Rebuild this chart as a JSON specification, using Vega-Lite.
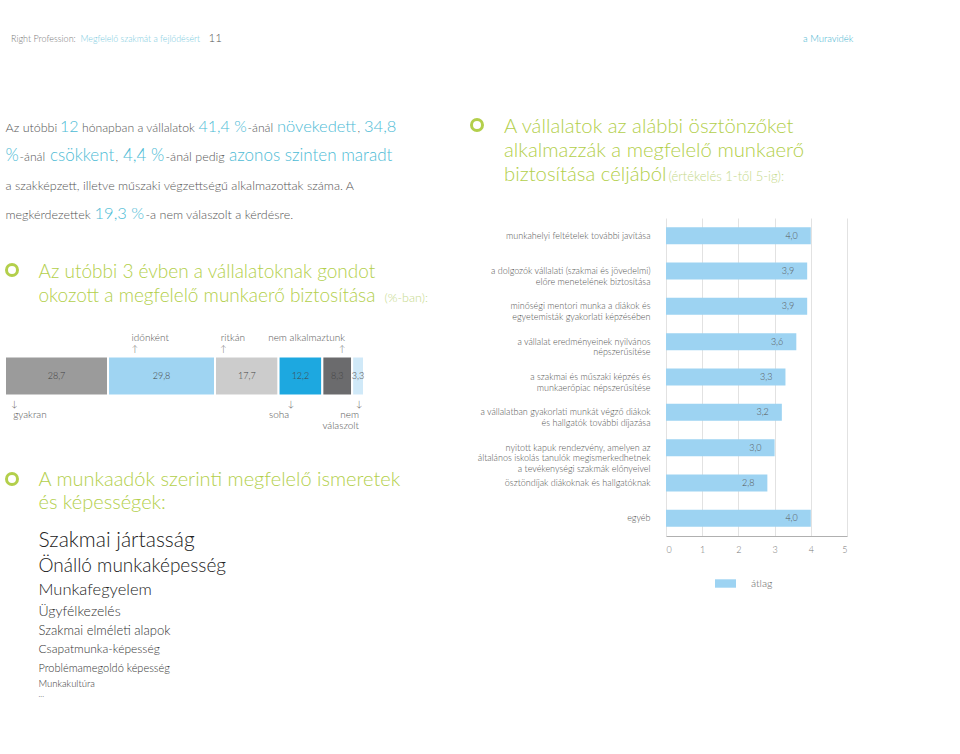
{
  "$schema": "https://vega.github.io/schema/vega-lite/v6.json",
  "padding": {"left": 0, "top": 0, "right": 0, "bottom": 0},
  "background": "white",
  "config": {
    "view": {"stroke": null},
    "font": "Lato",
    "text": {"font": "Lato", "align": "left", "baseline": "alphabetic", "fontWeight": 300},
    "axis": {"labelFontWeight": 300},
    "legend": {"labelFontWeight": 300},
    "locale": {"number": {"decimal": ",", "thousands": " ", "grouping": [3], "currency": ["", ""]}},
    "concat": {"spacing": 0}
  },
  "resolve": {"scale": {"color": "independent"}, "legend": {"color": "independent"}},
  "spacing": 3,
  "hconcat": [
    {
      "spacing": 0,
      "vconcat": [
        {"spacing": 0, "hconcat": [
          {"width": 1, "height": 117, "data": {"values": [{"t": "Right Profession:"}]}, "mark": {"type": "text", "fontSize": 9, "color": "#7a7a7a", "dx": 5.5, "dy": -17}, "encoding": {"text": {"field": "t", "type": "nominal"}}},
          {"width": 1, "height": 117, "data": {"values": [{"t": "Megfelelő szakmát a fejlődésért"}]}, "mark": {"type": "text", "fontSize": 8.8, "color": "#7ccbe0", "dx": 4, "dy": -17}, "encoding": {"text": {"field": "t", "type": "nominal"}}},
          {"width": 1, "height": 117, "data": {"values": [{"t": "11"}]}, "mark": {"type": "text", "fontSize": 11.5, "color": "#555555", "dx": 7, "dy": -17}, "encoding": {"text": {"field": "t", "type": "nominal"}}}
        ]},
        {"spacing": 0, "hconcat": [
          {"width": 1, "height": 29, "data": {"values": [{"t": "Az utóbbi"}]}, "mark": {"type": "text", "fontSize": 12.5, "color": "#555555"}, "encoding": {"text": {"field": "t", "type": "nominal"}}},
          {"width": 1, "height": 29, "data": {"values": [{"t": "12"}]}, "mark": {"type": "text", "fontSize": 16, "color": "#4dbbd5", "dx": 1.5}, "encoding": {"text": {"field": "t", "type": "nominal"}}},
          {"width": 1, "height": 29, "data": {"values": [{"t": "hónapban a vállalatok"}]}, "mark": {"type": "text", "fontSize": 12.2, "color": "#555555", "dx": 2.5}, "encoding": {"text": {"field": "t", "type": "nominal"}}},
          {"width": 1, "height": 29, "data": {"values": [{"t": "41,4 %"}]}, "mark": {"type": "text", "fontSize": 16, "color": "#4dbbd5", "dx": 2}, "encoding": {"text": {"field": "t", "type": "nominal"}}},
          {"width": 1, "height": 29, "data": {"values": [{"t": "-ánál"}]}, "mark": {"type": "text", "fontSize": 12.2, "color": "#555555"}, "encoding": {"text": {"field": "t", "type": "nominal"}}},
          {"width": 1, "height": 29, "data": {"values": [{"t": "növekedett"}]}, "mark": {"type": "text", "fontSize": 16.5, "color": "#4dbbd5", "dx": 2.5}, "encoding": {"text": {"field": "t", "type": "nominal"}}},
          {"width": 1, "height": 29, "data": {"values": [{"t": ","}]}, "mark": {"type": "text", "fontSize": 12.2, "color": "#555555"}, "encoding": {"text": {"field": "t", "type": "nominal"}}},
          {"width": 1, "height": 29, "data": {"values": [{"t": "34,8"}]}, "mark": {"type": "text", "fontSize": 16.5, "color": "#4dbbd5", "dx": 2.5}, "encoding": {"text": {"field": "t", "type": "nominal"}}}
        ]},
        {"spacing": 0, "hconcat": [
          {"width": 1, "height": 29, "data": {"values": [{"t": "%"}]}, "mark": {"type": "text", "fontSize": 17, "color": "#4dbbd5"}, "encoding": {"text": {"field": "t", "type": "nominal"}}},
          {"width": 1, "height": 29, "data": {"values": [{"t": "-ánál"}]}, "mark": {"type": "text", "fontSize": 12.2, "color": "#555555"}, "encoding": {"text": {"field": "t", "type": "nominal"}}},
          {"width": 1, "height": 29, "data": {"values": [{"t": "csökkent"}]}, "mark": {"type": "text", "fontSize": 17, "color": "#4dbbd5", "dx": 3.5}, "encoding": {"text": {"field": "t", "type": "nominal"}}},
          {"width": 1, "height": 29, "data": {"values": [{"t": ","}]}, "mark": {"type": "text", "fontSize": 12.2, "color": "#555555"}, "encoding": {"text": {"field": "t", "type": "nominal"}}},
          {"width": 1, "height": 29, "data": {"values": [{"t": "4,4 %"}]}, "mark": {"type": "text", "fontSize": 17, "color": "#4dbbd5", "dx": 3.5}, "encoding": {"text": {"field": "t", "type": "nominal"}}},
          {"width": 1, "height": 29, "data": {"values": [{"t": "-ánál pedig"}]}, "mark": {"type": "text", "fontSize": 12.5, "color": "#555555"}, "encoding": {"text": {"field": "t", "type": "nominal"}}},
          {"width": 1, "height": 29, "data": {"values": [{"t": "azonos szinten maradt"}]}, "mark": {"type": "text", "fontSize": 17, "color": "#4dbbd5", "dx": 3.5}, "encoding": {"text": {"field": "t", "type": "nominal"}}}
        ]},
        {"width": 1, "height": 29, "data": {"values": [{"t": "a szakképzett, illetve műszaki végzettségű alkalmazottak száma. A"}]}, "mark": {"type": "text", "fontSize": 12.5, "color": "#555555"}, "encoding": {"text": {"field": "t", "type": "nominal"}}},
        {"spacing": 0, "hconcat": [
          {"width": 1, "height": 29, "data": {"values": [{"t": "megkérdezettek"}]}, "mark": {"type": "text", "fontSize": 12.5, "color": "#555555"}, "encoding": {"text": {"field": "t", "type": "nominal"}}},
          {"width": 1, "height": 29, "data": {"values": [{"t": "19,3 %"}]}, "mark": {"type": "text", "fontSize": 16.5, "color": "#4dbbd5", "dx": 3}, "encoding": {"text": {"field": "t", "type": "nominal"}}},
          {"width": 1, "height": 29, "data": {"values": [{"t": "-a nem válaszolt a kérdésre."}]}, "mark": {"type": "text", "fontSize": 12.5, "color": "#555555"}, "encoding": {"text": {"field": "t", "type": "nominal"}}}
        ]},
        {"spacing": 0, "hconcat": [
          {"width": 1, "height": 88, "data": {"values": [{"t": "Az utóbbi 3 évben a vállalatoknak gondot\nokozott a megfelelő munkaerő biztosítása"}]},
            "layer": [
              {"mark": {"type": "point", "shape": "circle", "filled": false, "size": 121, "strokeWidth": 3, "color": "#b3cf4b", "opacity": 1, "xOffset": 6.5, "yOffset": -7}, "encoding": {}},
              {"mark": {"type": "text", "fontSize": 19, "color": "#b3cf4b", "dx": 33, "dy": 0.5, "lineBreak": "\n", "lineHeight": 24}, "encoding": {"text": {"field": "t", "type": "nominal"}}}
            ]},
          {"width": 1, "height": 88, "data": {"values": [{"t": "(%-ban):"}]}, "mark": {"type": "text", "fontSize": 12.5, "color": "#c5d98a", "dx": 8, "dy": 24.5}, "encoding": {"text": {"field": "t", "type": "nominal"}}}
        ]},
        {
          "width": 359, "height": 110,
          "data": {"values": [
            {"kategoria": "gyakran", "ertek": 28.7, "sorrend": 1},
            {"kategoria": "időnként", "ertek": 29.8, "sorrend": 2},
            {"kategoria": "ritkán", "ertek": 17.7, "sorrend": 3},
            {"kategoria": "soha", "ertek": 12.2, "sorrend": 4},
            {"kategoria": "nem alkalmaztunk", "ertek": 8.3, "sorrend": 5},
            {"kategoria": "nem válaszolt", "ertek": 3.3, "sorrend": 6}
          ]},
          "encoding": {
            "x": {"field": "ertek", "type": "quantitative", "stack": "zero", "scale": {"domain": [0, 100], "nice": false}, "axis": null},
            "order": {"field": "sorrend", "type": "quantitative"},
            "detail": {"field": "kategoria", "type": "nominal"}
          },
          "layer": [
            {"mark": {"type": "bar", "height": 39, "stroke": "white", "strokeWidth": 2}, "encoding": {"color": {"field": "kategoria", "type": "nominal", "scale": {"domain": ["gyakran", "időnként", "ritkán", "soha", "nem alkalmaztunk", "nem válaszolt"], "range": ["#9b9b9b", "#9fd4f2", "#cccccc", "#1da8e0", "#6b6b6d", "#d0e9f8"]}, "legend": null}}},
            {"mark": {"type": "text", "align": "center", "baseline": "middle", "fontSize": 9, "color": "#444444"}, "encoding": {"x": {"field": "ertek", "type": "quantitative", "stack": "zero", "bandPosition": 0.5}, "text": {"field": "ertek", "type": "quantitative", "format": ".1f"}}},
            {"mark": {"type": "text", "fontSize": 10, "color": "#555555", "dy": -35}, "encoding": {"x": {"field": "ertek", "type": "quantitative", "stack": "zero", "bandPosition": 0.22}, "text": {"condition": {"test": "datum.kategoria === 'időnként'", "field": "kategoria", "type": "nominal"}, "value": ""}}},
            {"mark": {"type": "text", "fontSize": 10, "color": "#555555", "dy": -35}, "encoding": {"x": {"field": "ertek", "type": "quantitative", "stack": "zero", "bandPosition": 0.09}, "text": {"condition": {"test": "datum.kategoria === 'ritkán'", "field": "kategoria", "type": "nominal"}, "value": ""}}},
            {"mark": {"type": "text", "fontSize": 10, "color": "#555555", "align": "right", "dy": -35}, "encoding": {"x": {"field": "ertek", "type": "quantitative", "stack": "zero", "bandPosition": 0.76}, "text": {"condition": {"test": "datum.kategoria === 'nem alkalmaztunk'", "field": "kategoria", "type": "nominal"}, "value": ""}}},
            {"mark": {"type": "text", "fontSize": 9, "color": "#555555", "align": "center", "baseline": "middle", "dy": -27}, "encoding": {"x": {"field": "ertek", "type": "quantitative", "stack": "zero", "bandPosition": 0.25}, "text": {"condition": {"test": "datum.kategoria === 'időnként'", "value": "↑"}, "value": ""}}},
            {"mark": {"type": "text", "fontSize": 9, "color": "#555555", "align": "center", "baseline": "middle", "dy": -27}, "encoding": {"x": {"field": "ertek", "type": "quantitative", "stack": "zero", "bandPosition": 0.13}, "text": {"condition": {"test": "datum.kategoria === 'ritkán'", "value": "↑"}, "value": ""}}},
            {"mark": {"type": "text", "fontSize": 9, "color": "#555555", "align": "center", "baseline": "middle", "dy": -27}, "encoding": {"x": {"field": "ertek", "type": "quantitative", "stack": "zero", "bandPosition": 0.66}, "text": {"condition": {"test": "datum.kategoria === 'nem alkalmaztunk'", "value": "↑"}, "value": ""}}},
            {"mark": {"type": "text", "fontSize": 9, "color": "#555555", "align": "center", "baseline": "middle", "dy": 27.5}, "encoding": {"x": {"field": "ertek", "type": "quantitative", "stack": "zero", "bandPosition": 0.09}, "text": {"condition": {"test": "datum.kategoria === 'gyakran'", "value": "↓"}, "value": ""}}},
            {"mark": {"type": "text", "fontSize": 9, "color": "#555555", "align": "center", "baseline": "middle", "dy": 27.5}, "encoding": {"x": {"field": "ertek", "type": "quantitative", "stack": "zero", "bandPosition": 0.28}, "text": {"condition": {"test": "datum.kategoria === 'soha'", "value": "↓"}, "value": ""}}},
            {"mark": {"type": "text", "fontSize": 9, "color": "#555555", "align": "center", "baseline": "middle", "dy": 27.5}, "encoding": {"x": {"field": "ertek", "type": "quantitative", "stack": "zero", "bandPosition": 0.58}, "text": {"condition": {"test": "datum.kategoria === 'nem válaszolt'", "value": "↓"}, "value": ""}}},
            {"mark": {"type": "text", "fontSize": 10, "color": "#555555", "dy": 42}, "encoding": {"x": {"field": "ertek", "type": "quantitative", "stack": "zero", "bandPosition": 0.08}, "text": {"condition": {"test": "datum.kategoria === 'gyakran'", "field": "kategoria", "type": "nominal"}, "value": ""}}},
            {"mark": {"type": "text", "fontSize": 10, "color": "#555555", "align": "right", "dy": 42}, "encoding": {"x": {"field": "ertek", "type": "quantitative", "stack": "zero", "bandPosition": 0.24}, "text": {"condition": {"test": "datum.kategoria === 'soha'", "field": "kategoria", "type": "nominal"}, "value": ""}}},
            {"mark": {"type": "text", "fontSize": 10, "color": "#555555", "align": "right", "dy": 42, "lineBreak": " ", "lineHeight": 11}, "encoding": {"x": {"field": "ertek", "type": "quantitative", "stack": "zero", "bandPosition": 0.58}, "text": {"condition": {"test": "datum.kategoria === 'nem válaszolt'", "field": "kategoria", "type": "nominal"}, "value": ""}}}
          ]
        },
        {"width": 1, "height": 94, "data": {"values": [{"t": "A munkaadók szerinti megfelelő ismeretek\nés képességek:"}]},
          "layer": [
            {"mark": {"type": "point", "shape": "circle", "filled": false, "size": 121, "strokeWidth": 3, "color": "#b3cf4b", "opacity": 1, "xOffset": 6.5, "yOffset": 1}, "encoding": {}},
            {"mark": {"type": "text", "fontSize": 20, "color": "#b3cf4b", "dx": 33, "dy": 8, "lineBreak": "\n", "lineHeight": 23}, "encoding": {"text": {"field": "t", "type": "nominal"}}}
          ]},
        {"width": 1, "height": 26, "data": {"values": [{"t": "Szakmai jártasság"}]}, "mark": {"type": "text", "fontSize": 21, "color": "#222222", "dx": 33, "dy": 9}, "encoding": {"text": {"field": "t", "type": "nominal"}}},
        {"width": 1, "height": 25, "data": {"values": [{"t": "Önálló munkaképesség"}]}, "mark": {"type": "text", "fontSize": 19, "color": "#222222", "dx": 33, "dy": 8.5}, "encoding": {"text": {"field": "t", "type": "nominal"}}},
        {"width": 1, "height": 23, "data": {"values": [{"t": "Munkafegyelem"}]}, "mark": {"type": "text", "fontSize": 16.5, "color": "#222222", "dx": 33, "dy": 7.5}, "encoding": {"text": {"field": "t", "type": "nominal"}}},
        {"width": 1, "height": 21, "data": {"values": [{"t": "Ügyfélkezelés"}]}, "mark": {"type": "text", "fontSize": 14, "color": "#333333", "dx": 33, "dy": 6.5}, "encoding": {"text": {"field": "t", "type": "nominal"}}},
        {"width": 1, "height": 19, "data": {"values": [{"t": "Szakmai elméleti alapok"}]}, "mark": {"type": "text", "fontSize": 13, "color": "#333333", "dx": 33, "dy": 5.5}, "encoding": {"text": {"field": "t", "type": "nominal"}}},
        {"width": 1, "height": 18, "data": {"values": [{"t": "Csapatmunka-képesség"}]}, "mark": {"type": "text", "fontSize": 12, "color": "#333333", "dx": 33, "dy": 5}, "encoding": {"text": {"field": "t", "type": "nominal"}}},
        {"width": 1, "height": 19, "data": {"values": [{"t": "Problémamegoldó képesség"}]}, "mark": {"type": "text", "fontSize": 11, "color": "#333333", "dx": 33, "dy": 5.5}, "encoding": {"text": {"field": "t", "type": "nominal"}}},
        {"width": 1, "height": 15, "data": {"values": [{"t": "Munkakultúra"}]}, "mark": {"type": "text", "fontSize": 9.5, "color": "#333333", "dx": 33, "dy": 3.5}, "encoding": {"text": {"field": "t", "type": "nominal"}}},
        {"width": 1, "height": 10, "data": {"values": [{"t": "..."}]}, "mark": {"type": "text", "fontSize": 8, "color": "#333333", "dx": 33, "dy": 1}, "encoding": {"text": {"field": "t", "type": "nominal"}}},
        {"width": 457, "height": 1, "data": {"values": []}, "mark": "point"}
      ]
    },
    {
      "spacing": 0,
      "vconcat": [
        {"width": 1, "height": 86, "data": {"values": [{"t": "a Muravidék"}]}, "mark": {"type": "text", "fontSize": 9.5, "color": "#3fb3cf", "dx": 136.5, "dy": -1.5}, "encoding": {"text": {"field": "t", "type": "nominal"}}},
        {"width": 1, "height": 76, "data": {"values": [{"t": "A vállalatok az alábbi ösztönzőket\nalkalmazzák a megfelelő munkaerő"}]},
          "layer": [
            {"mark": {"type": "point", "shape": "circle", "filled": false, "size": 121, "strokeWidth": 3, "color": "#b3cf4b", "opacity": 1, "xOffset": -189.5, "yOffset": 1}, "encoding": {}},
            {"mark": {"type": "text", "fontSize": 20.3, "color": "#b3cf4b", "dx": -162.5, "dy": 9, "lineBreak": "\n", "lineHeight": 24}, "encoding": {"text": {"field": "t", "type": "nominal"}}}
          ]},
        {"spacing": 0, "hconcat": [
          {"width": 1, "height": 56, "data": {"values": [{"t": "biztosítása céljából"}]}, "mark": {"type": "text", "fontSize": 20.3, "color": "#b3cf4b", "dx": -162.5, "dy": -9.5}, "encoding": {"text": {"field": "t", "type": "nominal"}}},
          {"width": 1, "height": 56, "data": {"values": [{"t": "(értékelés 1-től 5-ig):"}]}, "mark": {"type": "text", "fontSize": 13, "color": "#c5d98a", "dx": 1, "dy": -9.5}, "encoding": {"text": {"field": "t", "type": "nominal"}}}
        ]},
        {
          "width": 181, "height": 318,
          "data": {"values": [
            {"osztonzo": "munkahelyi feltételek további javítása", "atlag": 4.0},
            {"osztonzo": "a dolgozók vállalati (szakmai és jövedelmi)\nelőre menetelének biztosítása", "atlag": 3.9},
            {"osztonzo": "minőségi mentori munka a diákok és\negyetemisták gyakorlati képzésében", "atlag": 3.9},
            {"osztonzo": "a vállalat eredményeinek nyilvános\nnépszerűsítése", "atlag": 3.6},
            {"osztonzo": "a szakmai és műszaki képzés és\nmunkaerőpiac népszerűsítése", "atlag": 3.3},
            {"osztonzo": "a vállalatban gyakorlati munkát végző diákok\nés hallgatók további díjazása", "atlag": 3.2},
            {"osztonzo": "nyitott kapuk rendezvény, amelyen az\náltalános iskolás tanulók megismerkedhetnek\na tevékenységi szakmák előnyeivel", "atlag": 3.0},
            {"osztonzo": "ösztöndíjak diákoknak és hallgatóknak", "atlag": 2.8},
            {"osztonzo": "egyéb", "atlag": 4.0}
          ]},
          "encoding": {
            "y": {"field": "osztonzo", "type": "nominal", "sort": null, "scale": {"paddingInner": 0.52, "paddingOuter": 0.26},
              "axis": {"title": null, "domain": false, "ticks": false, "labelPadding": 16, "labelFontSize": 9, "labelColor": "#555555", "labelLimit": 400, "labelLineHeight": 10.7, "labelExpr": "split(datum.label, '\\n')"}},
            "x": {"field": "atlag", "type": "quantitative", "scale": {"domain": [0, 5], "nice": false},
              "axis": {"title": null, "values": [0, 1, 2, 3, 4, 5], "format": "d", "grid": true, "gridColor": "#e2e2e2", "domainColor": "#b0b0b0", "ticks": false, "labelFontSize": 9, "labelColor": "#777777", "labelPadding": 9}}
          },
          "layer": [
            {"mark": {"type": "bar"}, "encoding": {"color": {"datum": "átlag", "type": "nominal", "scale": {"range": ["#9dd3f2"]},
              "legend": {"title": null, "orient": "none", "legendX": 49, "legendY": 573, "symbolType": "M-1,-0.4H1V0.4H-1Z", "symbolSize": 441, "symbolStrokeWidth": 0, "labelFontSize": 10.5, "labelColor": "#666666", "labelOffset": 15}}}},
            {"mark": {"type": "text", "align": "right", "baseline": "middle", "dx": -13, "fontSize": 9, "color": "#555555"}, "encoding": {"text": {"field": "atlag", "type": "quantitative", "format": ".1f"}}}
          ]
        }
      ]
    }
  ]
}
